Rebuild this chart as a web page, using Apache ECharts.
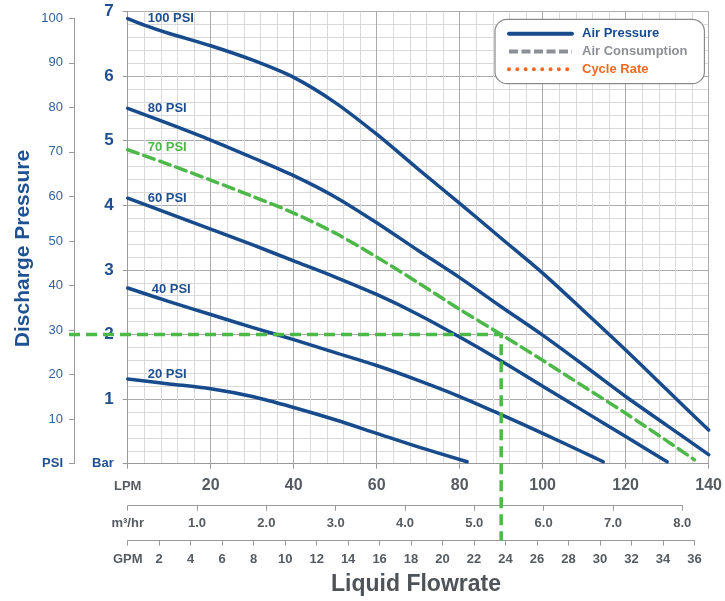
<!DOCTYPE html>
<html><head><meta charset="utf-8">
<script src="https://cdn.jsdelivr.net/npm/echarts@6/dist/echarts.min.js"></script>
<style>html,body{margin:0;padding:0;background:#fff}#c{width:725px;height:601px}</style>
</head><body><div id="c"></div>
<script>
// ---------- DATA ----------
const curveNames = ['100 PSI', '80 PSI', '70 PSI', '60 PSI', '40 PSI', '20 PSI'];
const lpm100 = [0, 4, 10, 20, 30, 40, 50, 60, 70, 80, 90, 100, 110, 120, 130, 140];
const bar100 = [6.89, 6.79, 6.66, 6.47, 6.25, 5.98, 5.59, 5.10, 4.56, 4.03, 3.49, 2.95, 2.36, 1.76, 1.14, 0.52];
const lpm80 = [0, 10, 20, 30, 40, 50, 60, 70, 80, 90, 100, 110, 120, 130, 140];
const bar80 = [5.50, 5.26, 5.01, 4.74, 4.46, 4.13, 3.73, 3.30, 2.88, 2.43, 1.99, 1.52, 1.04, 0.59, 0.14];
const lpm70 = [0, 10, 20, 30, 40, 50, 60, 70, 80, 90, 100, 110, 120, 130, 136.6];
const bar70 = [4.86, 4.63, 4.39, 4.14, 3.88, 3.57, 3.20, 2.80, 2.39, 2.00, 1.60, 1.19, 0.78, 0.35, 0.06];
const lpm60 = [0, 10, 20, 30, 40, 50, 60, 70, 80, 90, 100, 110, 120, 130];
const bar60 = [4.11, 3.87, 3.63, 3.39, 3.14, 2.89, 2.62, 2.31, 1.96, 1.59, 1.20, 0.81, 0.42, 0.03];
const lpm40 = [0, 10, 20, 30, 40, 50, 60, 70, 80, 90, 100, 110, 114.6];
const bar40 = [2.72, 2.51, 2.31, 2.11, 1.92, 1.72, 1.52, 1.29, 1.04, 0.76, 0.47, 0.17, 0.03];
const lpm20 = [0, 10, 20, 30, 40, 50, 60, 70, 81.8];
const bar20 = [1.31, 1.235, 1.16, 1.04, 0.87, 0.68, 0.47, 0.26, 0.03];
const legendNames = ['Air Pressure', 'Air Consumption', 'Cycle Rate'];
const refPoint = [90, 2.0]; // LPM, bar (24 GPM / ~30 PSI)
const lpmRange = [0, 140], lpmStep = 20;
const barRange = [0, 7], barStep = 1;
const psiRange = [0, 100], psiStep = 10;
const m3Range = [0, 8], m3Step = 1;
const gpmRange = [0, 36], gpmStep = 2;
const unitLabels = { lpm: 'LPM', m3: 'm³/hr', gpm: 'GPM', bar: 'Bar', psi: 'PSI' };

// unit conversions
const LPM_PER_M3H = 1000 / 60, LPM_PER_GPM = 3.78541, PSI_PER_BAR = 14.5038;

// ---------- STYLE / LAYOUT ----------
const W = 725, H = 601;
const L = 127.7, R = 15, T = 11.5, B = 137.3;
const plotW = W - L - R, plotH = H - T - B;
const pxLPM = plotW / (lpmRange[1] - lpmRange[0]);
const pxBar = plotH / (barRange[1] - barRange[0]);
const psiTop = T + (barRange[1] - psiRange[1] / PSI_PER_BAR) * pxBar;
const FONT = 'Liberation Sans, Arial, sans-serif';
const NAVY = '#174b8c', GREEN = '#4cb848', GREY = '#555b61', AXIS = '#9a9a9a';
const MAJOR = '#ababab', MINOR = '#d9d9d9';
const curveSeries = [
  { lpm: lpm100, bar: bar100, color: NAVY, dash: 'solid', off: [0, 0] },
  { lpm: lpm80, bar: bar80, color: NAVY, dash: 'solid', off: [0, 0] },
  { lpm: lpm70, bar: bar70, color: GREEN, dash: [11, 6], off: [0, -2.5] },
  { lpm: lpm60, bar: bar60, color: NAVY, dash: 'solid', off: [0, 0] },
  { lpm: lpm40, bar: bar40, color: NAVY, dash: 'solid', off: [4, 1] },
  { lpm: lpm20, bar: bar20, color: NAVY, dash: 'solid', off: [0, -5] }
];

const chart = echarts.init(document.getElementById('c'), null, { renderer: 'canvas' });

const series = curveSeries.map((c, i) => ({
  type: 'line',
  name: c.color === GREEN ? curveNames[i] : legendNames[0],
  xAxisIndex: 0, yAxisIndex: 0,
  data: c.lpm.map((x, k) => [x, c.bar[k]]),
  symbol: 'none', smooth: 0.3, z: c.color === GREEN ? 4 : 3,
  lineStyle: { color: c.color, width: 3.5, type: c.dash, cap: 'round' },
  itemStyle: { color: c.color },
  markPoint: {
    symbol: 'circle', symbolSize: 0, silent: true, animation: false,
    data: [{ coord: [c.lpm[0], c.bar[0]] }],
    label: {
      show: true, position: 'right', distance: 20, offset: c.off,
      formatter: curveNames[i], color: c.color === GREEN ? GREEN : '#1f4f8f',
      fontSize: 13, fontWeight: 'bold', fontFamily: FONT
    }
  }
}));
series.push({
  type: 'line', name: legendNames[1], data: [], xAxisIndex: 0, yAxisIndex: 0, symbol: 'none',
  lineStyle: { color: '#8c9096', width: 4, type: [9, 3.5] }, itemStyle: { color: '#8c9096' }
});
series.push({
  type: 'line', name: legendNames[2], data: [], xAxisIndex: 0, yAxisIndex: 0, symbol: 'none',
  lineStyle: { color: '#f26a21', width: 3.5, type: [0.01, 8.3], cap: 'round' }, itemStyle: { color: '#f26a21' }
});

const option = {
  animation: false,
  textStyle: { fontFamily: FONT },
  grid: [
    { left: L, right: R, top: T, bottom: B },
    { left: 74, width: 20, top: psiTop, bottom: B },
    { left: L, width: m3Range[1] * LPM_PER_M3H * pxLPM, top: 480, bottom: 95.3 },
    { left: L, width: gpmRange[1] * LPM_PER_GPM * pxLPM, top: 520, bottom: 60.3 }
  ],
  xAxis: [
    {
      gridIndex: 0, type: 'value', min: lpmRange[0], max: lpmRange[1], interval: lpmStep,
      axisLine: { show: true, lineStyle: { color: AXIS, width: 1 } },
      axisTick: { show: true, length: 5, lineStyle: { color: AXIS } },
      axisLabel: {
        margin: 13.5, showMinLabel: true, showMaxLabel: true,
        formatter: v => v === 0 ? '{u|' + unitLabels.lpm + '}' : '{v|' + v + '}',
        rich: {
          u: { fontSize: 13, fontWeight: 'bold', color: GREY, fontFamily: FONT, padding: [3, 0, 0, 0] },
          v: { fontSize: 16, fontWeight: 'bold', color: GREY, fontFamily: FONT }
        }
      },
      splitLine: { show: true, lineStyle: { color: MAJOR, width: 1 } },
      minorTick: { show: false, splitNumber: 5 },
      minorSplitLine: { show: true, lineStyle: { color: MINOR, width: 1 } }
    },
    { gridIndex: 1, type: 'value', min: 0, max: 1, show: false },
    {
      gridIndex: 2, type: 'value', min: m3Range[0], max: m3Range[1], interval: m3Step,
      axisLine: { show: true, lineStyle: { color: AXIS, width: 1 } },
      axisTick: { show: true, length: 5, lineStyle: { color: AXIS } },
      axisLabel: {
        margin: 11, showMinLabel: true, showMaxLabel: true,
        formatter: v => v === 0 ? unitLabels.m3 : v.toFixed(1),
        fontSize: 13, fontWeight: 'bold', color: GREY
      },
      splitLine: { show: false }
    },
    {
      gridIndex: 3, type: 'value', min: gpmRange[0], max: gpmRange[1], interval: gpmStep,
      axisLine: { show: true, lineStyle: { color: AXIS, width: 1 } },
      axisTick: { show: true, length: 5, lineStyle: { color: AXIS } },
      axisLabel: {
        margin: 12, showMinLabel: true, showMaxLabel: true,
        formatter: v => v === 0 ? unitLabels.gpm : String(v),
        fontSize: 13, fontWeight: 'bold', color: GREY
      },
      splitLine: { show: false }
    }
  ],
  yAxis: [
    {
      gridIndex: 0, type: 'value', min: barRange[0], max: barRange[1], interval: barStep,
      axisLine: { show: true, lineStyle: { color: AXIS, width: 1 } },
      axisTick: { show: true, length: 5, lineStyle: { color: AXIS } },
      axisLabel: {
        margin: 14, showMinLabel: true, showMaxLabel: true,
        formatter: v => v === 0 ? '{u|' + unitLabels.bar + '}' : '{v|' + v + '}',
        rich: {
          u: { fontSize: 13, fontWeight: 'bold', color: '#1f4f8f', fontFamily: FONT },
          v: { fontSize: 17, fontWeight: 'bold', color: '#1f4f8f', fontFamily: FONT }
        }
      },
      splitLine: { show: true, lineStyle: { color: MAJOR, width: 1 } },
      minorTick: { show: false, splitNumber: 5 },
      minorSplitLine: { show: true, lineStyle: { color: MINOR, width: 1 } }
    },
    {
      gridIndex: 1, type: 'value', min: psiRange[0], max: psiRange[1], interval: psiStep,
      axisLine: { show: true, lineStyle: { color: AXIS, width: 1 } },
      axisTick: { show: true, length: 5, lineStyle: { color: AXIS } },
      axisLabel: {
        margin: 11, showMinLabel: true, showMaxLabel: true,
        formatter: v => v === 0 ? '{u|' + unitLabels.psi + '}' : '{v|' + v + '}',
        rich: {
          u: { fontSize: 13, fontWeight: 'bold', color: '#1f4f8f', fontFamily: FONT },
          v: { fontSize: 13, color: '#33609f', fontFamily: FONT }
        }
      },
      splitLine: { show: false }
    },
    { gridIndex: 2, type: 'value', min: 0, max: 1, show: false },
    { gridIndex: 3, type: 'value', min: 0, max: 1, show: false }
  ],
  legend: {
    data: [
      { name: legendNames[0], textStyle: { color: NAVY } },
      { name: legendNames[1], textStyle: { color: '#8c9096' } },
      { name: legendNames[2], textStyle: { color: '#f26a21' } }
    ],
    orient: 'vertical', left: 495, top: 19.3,
    padding: [8, 17, 8, 12], itemWidth: 63, itemHeight: 12, itemGap: 4.7,
    borderColor: '#8a8a8a', borderWidth: 1.2, borderRadius: 12, backgroundColor: '#fff',
    selectedMode: false,
    itemStyle: { opacity: 0 },
    lineStyle: { width: 4 },
    textStyle: { fontSize: 13, fontWeight: 'bold', fontFamily: FONT, lineHeight: 12, padding: [0, 0, 0, 5] }
  },
  graphic: {
    elements: [
      {
        id: 'ytitle', type: 'text', x: 23.5, y: 248.5, rotation: Math.PI / 2,
        style: { text: 'Discharge Pressure', fill: '#1f5293', font: 'bold 21px ' + FONT, align: 'center', verticalAlign: 'middle' }
      },
      {
        id: 'xtitle', type: 'text', x: 416, y: 585,
        style: { text: 'Liquid Flowrate', fill: '#4d5358', font: 'bold 23px ' + FONT, align: 'center', verticalAlign: 'middle' }
      }
    ]
  },
  series: series
};
chart.setOption(option);

// operating-point reference lines, positioned through the chart's own axes
const p = chart.convertToPixel({ gridIndex: 0 }, refPoint);
const psiAxisX = chart.convertToPixel({ xAxisIndex: 1 }, 0) - 5;
const gpmAxisY = chart.convertToPixel({ yAxisIndex: 3 }, 0);
chart.setOption({
  graphic: {
    elements: [{
      id: 'ref', type: 'polyline', z: 10,
      shape: { points: [[psiAxisX, p[1]], [p[0], p[1]], [p[0], gpmAxisY]] },
      style: { stroke: GREEN, lineWidth: 3.5, lineDash: [11, 6], fill: null }
    }]
  }
});
</script></body></html>
